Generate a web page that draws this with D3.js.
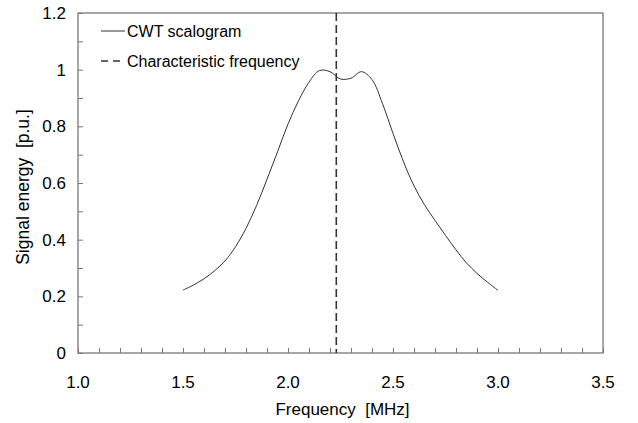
<!DOCTYPE html>
<html><head><meta charset="utf-8">
<script src="https://cdn.jsdelivr.net/npm/d3@7"></script>
<style>body{margin:0;background:#fff}svg{display:block}text{font-family:"Liberation Sans",Arial,sans-serif;fill:#000;white-space:pre}</style>
</head><body><svg id="c" width="638" height="423"></svg>
<script>
const freq = [1.50,1.55,1.60,1.65,1.70,1.75,1.80,1.85,1.90,1.95,2.00,2.05,2.10,2.15,2.20,2.25,2.30,2.35,2.40,2.45,2.50,2.55,2.60,2.65,2.70,2.75,2.80,2.85,2.90,2.95,3.00];
const energy = [0.222,0.240,0.262,0.290,0.325,0.375,0.440,0.520,0.613,0.710,0.808,0.890,0.956,0.997,0.993,0.967,0.970,0.993,0.965,0.880,0.775,0.675,0.590,0.523,0.468,0.415,0.364,0.318,0.281,0.250,0.221];
const charFreq = 2.23;
const xLabels = [1.0,1.5,2.0,2.5,3.0,3.5];
const yLabels = [0,0.2,0.4,0.6,0.8,1,1.2];
const legendItems = ["CWT scalogram","Characteristic frequency"];

const svg = d3.select("#c");
const L=78,R=603,T=13,B=353;
const x = d3.scaleLinear().domain([1,3.5]).range([L,R]);
const y = d3.scaleLinear().domain([0,1.2]).range([B,T]);
const axisCol="#777";

svg.append("rect").attr("x",L).attr("y",T).attr("width",R-L).attr("height",B-T)
  .attr("fill","none").attr("stroke",axisCol).attr("stroke-width",1.3);

const xt = d3.range(10,36).map(d=>d/10);
const gx = svg.append("g").attr("transform",`translate(0,${B})`)
  .call(d3.axisTop(x).tickValues(xt).tickSize(5).tickFormat(""));
gx.select(".domain").remove();
gx.selectAll("line").attr("stroke",axisCol);
svg.append("g").selectAll("text").data(xLabels).join("text")
  .attr("x",d=>x(d)).attr("y",B+35).attr("text-anchor","middle").attr("font-size",17)
  .text(d=>d.toFixed(1));

const yt = d3.range(0,13).map(d=>d/10);
const gy = svg.append("g").attr("transform",`translate(${L},0)`)
  .call(d3.axisRight(y).tickValues(yt).tickSize(5).tickFormat(""));
gy.select(".domain").remove();
gy.selectAll("line").attr("stroke",axisCol);
svg.append("g").selectAll("text").data(yLabels).join("text")
  .attr("x",L-12).attr("y",d=>y(d)+6).attr("text-anchor","end").attr("font-size",17)
  .text(d=>String(d));

svg.append("text").attr("x",(L+R)/2+2).attr("y",415).attr("text-anchor","middle").attr("font-size",17).text("Frequency  [MHz]");
svg.append("text").attr("transform",`translate(29,${187}) rotate(-90)`).attr("text-anchor","middle").attr("font-size",17.5).text("Signal energy  [p.u.]");

const data = freq.map((f,i)=>[f,energy[i]]);
svg.append("path").datum(data)
  .attr("d",d3.line().x(d=>x(d[0])).y(d=>y(d[1])).curve(d3.curveCatmullRom.alpha(0.5)))
  .attr("fill","none").attr("stroke","#333").attr("stroke-width",1);

svg.append("line").attr("x1",x(charFreq)).attr("x2",x(charFreq)).attr("y1",T).attr("y2",B)
  .attr("stroke","#333").attr("stroke-width",1.6).attr("stroke-dasharray","8,4");

const lg = svg.append("g");
lg.append("line").attr("x1",101).attr("x2",125).attr("y1",31).attr("y2",31).attr("stroke","#333").attr("stroke-width",1);
lg.append("line").attr("x1",101).attr("x2",125).attr("y1",61).attr("y2",61).attr("stroke","#333").attr("stroke-width",1.6).attr("stroke-dasharray","7,5");
lg.selectAll("text").data(legendItems).join("text")
  .attr("x",127).attr("y",(d,i)=>37+i*30).attr("font-size",16).text(d=>d);
</script></body></html>
